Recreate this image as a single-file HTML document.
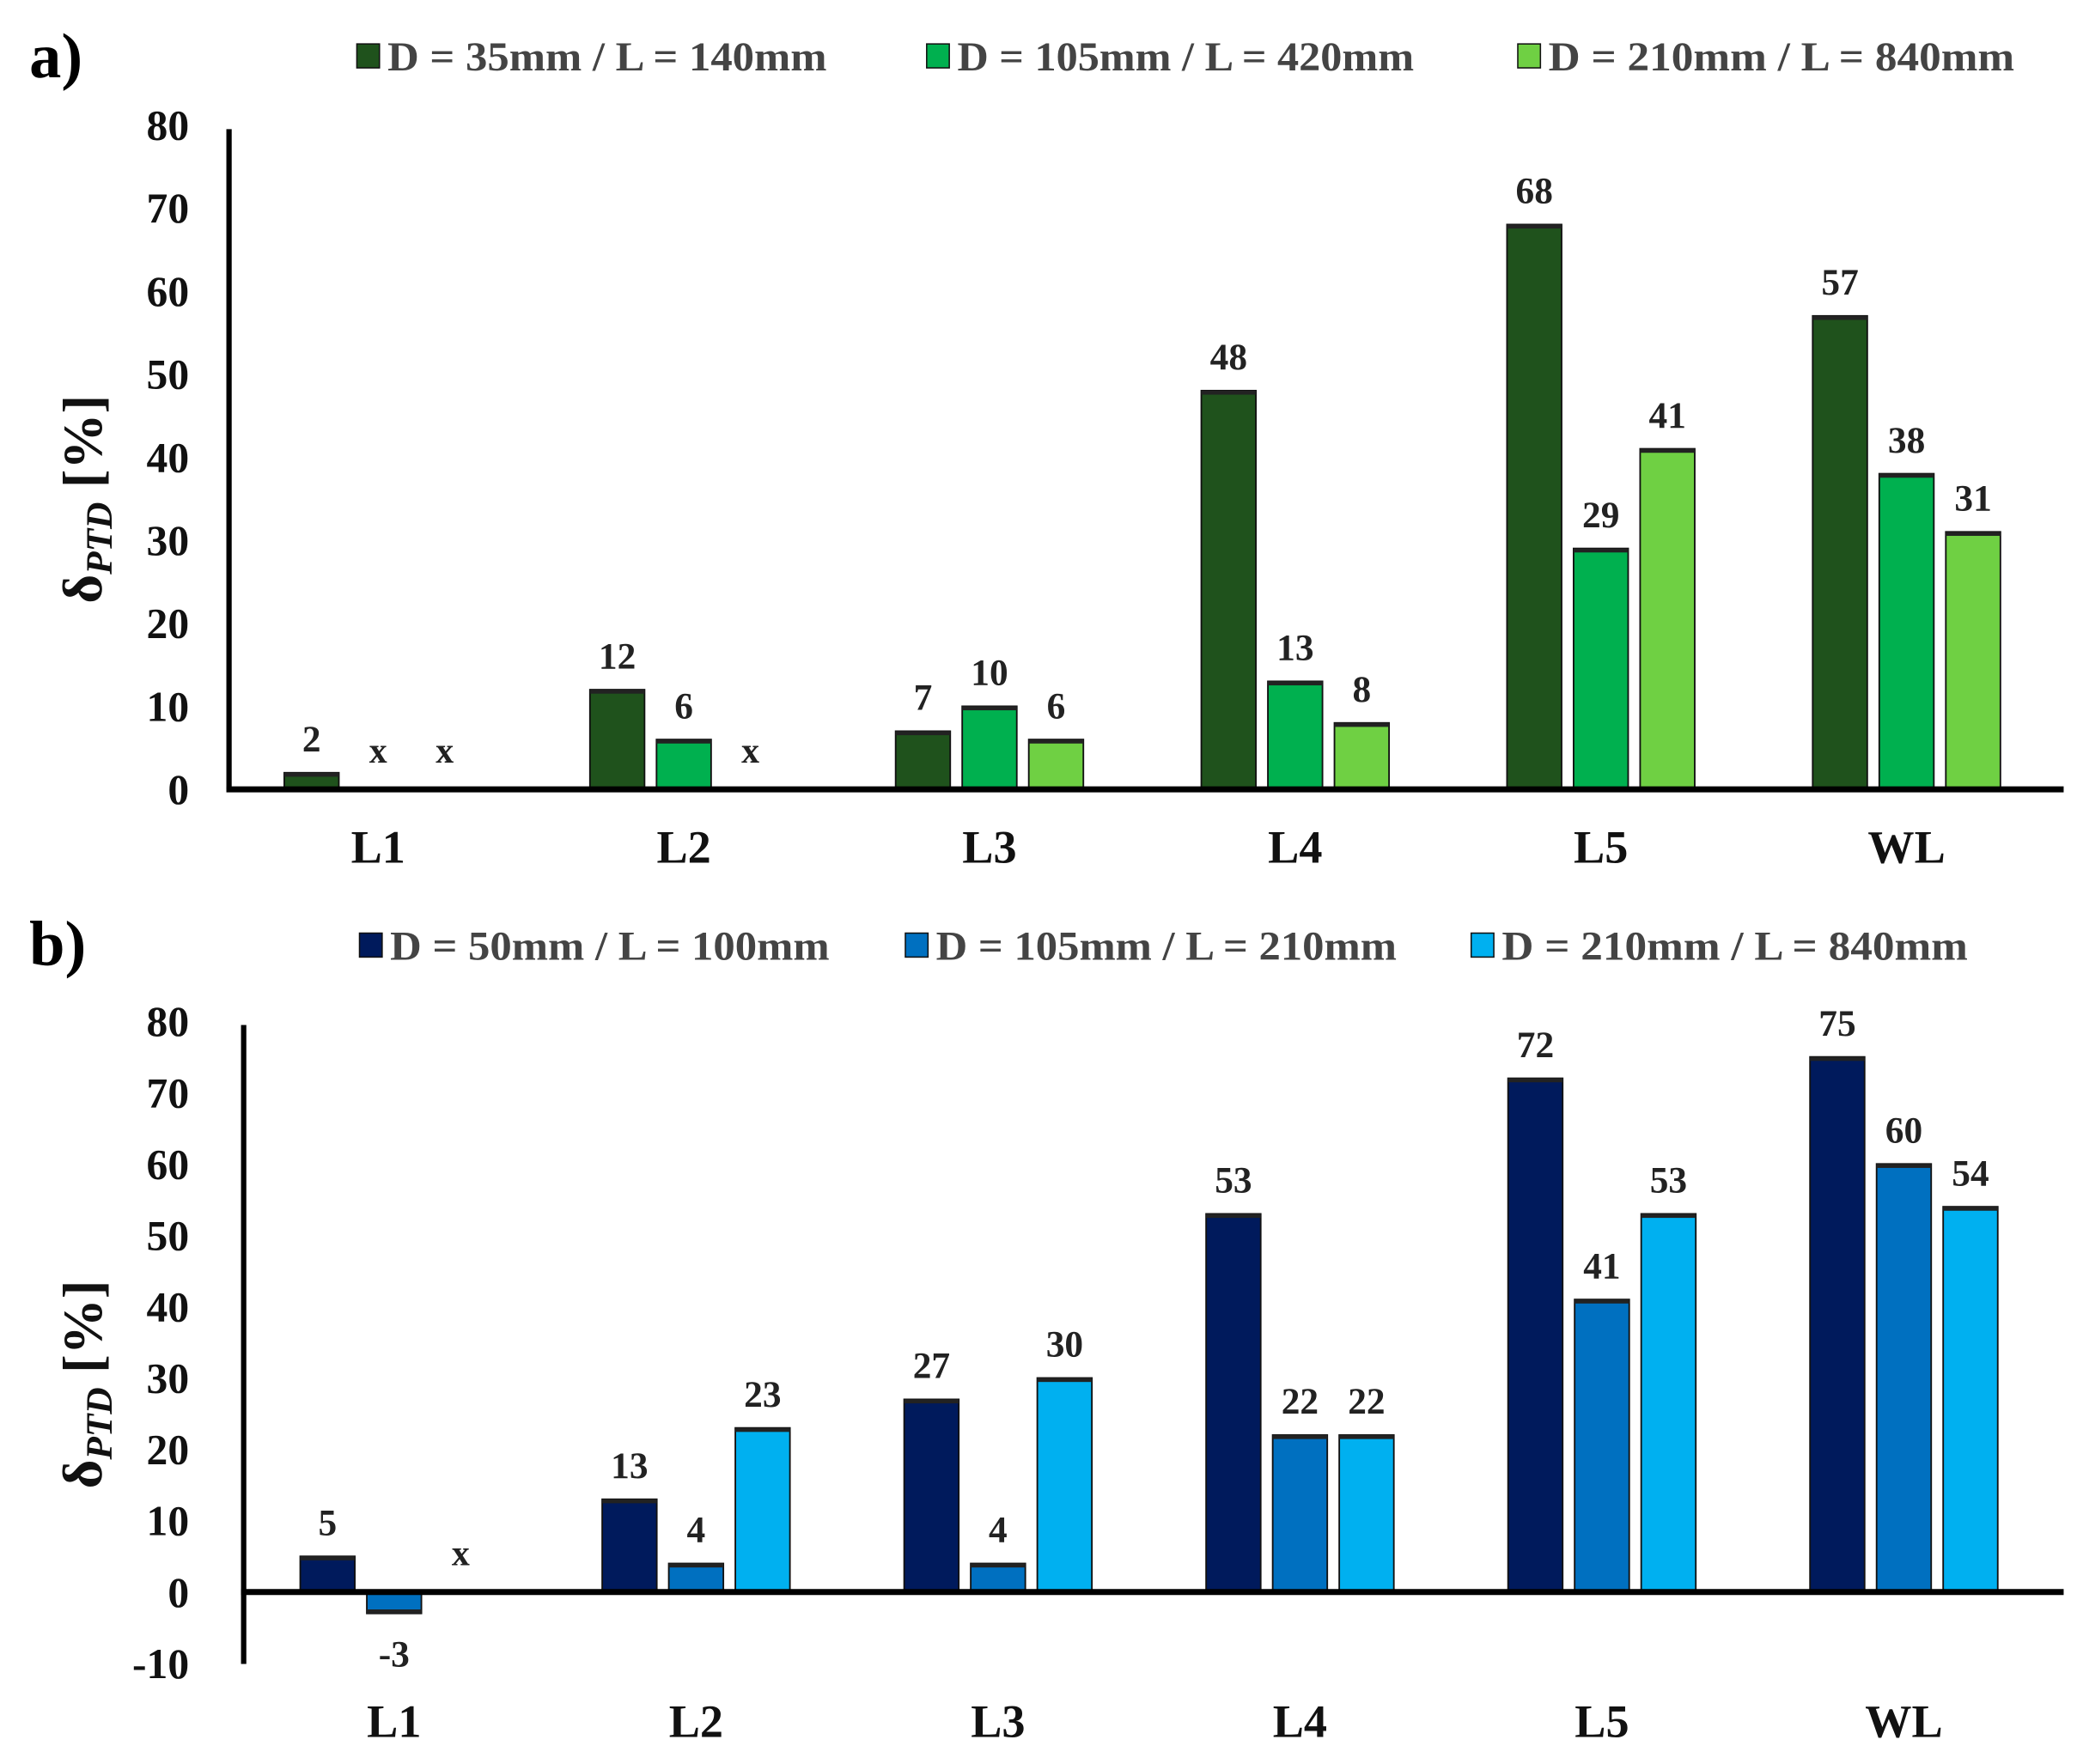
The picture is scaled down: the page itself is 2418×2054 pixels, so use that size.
<!DOCTYPE html>
<html><head><meta charset="utf-8"><style>
html,body{margin:0;padding:0;background:#fff}
svg{display:block}
text{font-family:"Liberation Serif",serif;font-weight:bold}
</style></head><body>
<svg id="chart" width="2418" height="2054" viewBox="0 0 1560 1325.2" xmlns="http://www.w3.org/2000/svg"></svg>
<script>
const categories = ["L1","L2","L3","L4","L5","WL"];
const seriesNamesA = ["D = 35mm / L = 140mm","D = 105mm / L = 420mm","D =  210mm / L = 840mm"];
const seriesA1 = [2,12,7,48,68,57];
const seriesA2 = [null,6,10,13,29,38];
const seriesA3 = [null,null,6,8,41,31];
const ticksA = [0,10,20,30,40,50,60,70,80];
const seriesNamesB = ["D = 50mm / L = 100mm","D = 105mm / L = 210mm","D =  210mm / L = 840mm"];
const seriesB1 = [5,13,27,53,72,75];
const seriesB2 = [-3,4,4,22,41,60];
const seriesB3 = [null,23,30,22,53,54];
const ticksB = [-10,0,10,20,30,40,50,60,70,80];

const NS = "http://www.w3.org/2000/svg";
const svg = document.getElementById("chart");
function mk(tag, attrs, parent, txt){
  const e = document.createElementNS(NS, tag);
  for (const k in attrs) e.setAttribute(k, attrs[k]);
  if (txt !== undefined) e.textContent = txt;
  (parent || svg).appendChild(e);
  return e;
}

function panel(cfg){
  const g = mk("g", {});
  
  
  const y = v => cfg.zeroY - v * cfg.per10 / 10;
  const x = i => cfg.firstCenter + i * cfg.groupStride;
  const pl = mk("text", {x:22, y:cfg.letterY, "font-size":48}, g, cfg.letter);
  
  
  cfg.names.forEach((n, i) => {
    const lg = mk("g", {}, g);
    
    
    mk("rect", {x:cfg.legendX[i], y:cfg.legendY-9, width:17, height:18, fill:cfg.colors[i], stroke:"#111", "stroke-width":1}, lg);
    mk("text", {x:cfg.legendX[i]+23, y:cfg.legendY+11, "font-size":31, fill:"#444", textLength:cfg.legendW[i], lengthAdjust:"spacingAndGlyphs"}, lg, n);
  });
  cfg.ticks.forEach(t => {
    const tl = mk("text", {x:142, y:y(t)+11, "font-size":32, "text-anchor":"end", fill:"#111"}, g, String(t));
    
    
  });
  const yt = mk("text", {transform:`translate(76,${cfg.titleY}) rotate(-90)`, "font-size":42, "font-family":"Liberation Sans, sans-serif", "text-anchor":"middle", fill:"#111"}, g);
  
  
  mk("tspan", {}, yt, "δ");
  mk("tspan", {"font-size":28, "font-style":"italic", dy:8, "font-family":"Liberation Serif, serif"}, yt, "PTD");
  mk("tspan", {dy:-8}, yt, " [%]");
  cfg.series.forEach((s, si) => {
    s.forEach((v, ci) => {
      const cx = x(ci) + (si - 1) * 50;
      if (v === null) {
        const xl = mk("text", {x:cx, y:cfg.zeroY - 20, "font-size":27, "text-anchor":"middle", fill:"#222"}, g, "x");
        
        
        return;
      }
      const top = Math.min(y(v), cfg.zeroY), h = Math.abs(y(v) - cfg.zeroY);
      const b = mk("rect", {x:cx-20.5, y:top, width:41, height:h, fill:cfg.colors[si], stroke:"#111", "stroke-width":1.2}, g);
      
      
      mk("rect", {x:cx-20.5, y:v>=0?top:top+h-3, width:41, height:3, fill:"#222"}, g);
      const ly = v >= 0 ? y(v) - 16 : y(v) + 40;
      const vl = mk("text", {x:cx, y:ly, "font-size":28, "text-anchor":"middle", fill:"#222"}, g, String(v));
      
      
    });
  });
  const ya = mk("line", {x1:cfg.axisX, x2:cfg.axisX, y1:cfg.axisTop, y2:cfg.axisBottom, stroke:"#000", "stroke-width":4}, g);
  
  
  const xa = mk("line", {x1:cfg.axisX-2, x2:1550, y1:cfg.zeroY, y2:cfg.zeroY, stroke:"#000", "stroke-width":4.5}, g);
  
  
  categories.forEach((c, ci) => {
    const cl = mk("text", {x:x(ci), y:cfg.catY, "font-size":35, "text-anchor":"middle", fill:"#111"}, g, c);
    
    
  });
}

panel({id:"a", letter:"a)", letterY:58, legendY:42, legendX:[268,696,1140], legendW:[330,343,350], names:seriesNamesA,
  colors:["#1f521c","#00b04f","#6fd043"], series:[seriesA1,seriesA2,seriesA3], ticks:ticksA,
  zeroY:593, per10:62.4, firstCenter:284, groupStride:229.6, axisX:172, axisTop:97, axisBottom:593,
  titleY:375, catY:648});
panel({id:"b", letter:"b)", letterY:725, legendY:710, legendX:[270,680,1105], legendW:[330,346,350], names:seriesNamesB,
  colors:["#001a5c","#0070c0","#00b0f0"], series:[seriesB1,seriesB2,seriesB3], ticks:ticksB,
  zeroY:1196, per10:53.6, firstCenter:296, groupStride:226.8, axisX:183, axisTop:770, axisBottom:1250,
  titleY:1040, catY:1305});
</script>
</body></html>
